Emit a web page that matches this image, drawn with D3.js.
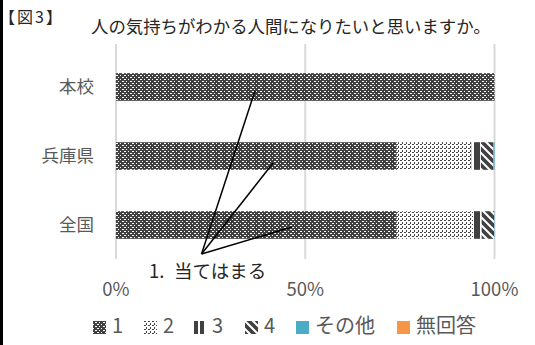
<!DOCTYPE html>
<html><head><meta charset="utf-8">
<script src="https://cdn.jsdelivr.net/npm/d3@7"></script>
<style>
html,body{margin:0;padding:0;background:#fff;}
svg{display:block;font-family:"Noto Sans CJK JP","Noto Sans",sans-serif;}
</style></head>
<body>
<script>
// ---- data ----
const categories = ["本校", "兵庫県", "全国"];
const seriesKeys = ["1", "2", "3", "4", "その他", "無回答"];
const honko   = [100, 0, 0, 0, 0, 0];
const hyogo   = [74.2, 19.8, 2.4, 3.3, 0.3, 0];
const zenkoku = [74.2, 20.2, 2.2, 3.3, 0.1, 0];
const tickValues = [0, 50, 100];
const tickLabels = ["0%", "50%", "100%"];
const figLabel = "【図3】";
const title = "人の気持ちがわかる人間になりたいと思いますか。";
const calloutNum = "1.";
const calloutText = "当てはまる";
// leader line targets (percent along the axis, inside segment 1)
const calloutTargets = [36.7, 41.5, 46.5];

// ---- layout ----
const W = 535, H = 345;
const svg = d3.select("body").append("svg").attr("width", W).attr("height", H);
const defs = svg.append("defs");
const dark = "#404040";

function pat(id, w, h, bg, rects) {
  const p = defs.append("pattern").attr("id", id).attr("patternUnits", "userSpaceOnUse")
    .attr("width", w).attr("height", h);
  p.append("rect").attr("width", w).attr("height", h).attr("fill", bg);
  rects.forEach(r => p.append("rect").attr("x", r[0]).attr("y", r[1]).attr("width", r[2]).attr("height", r[3]).attr("fill", r[4]));
  return p;
}
pat("p1", 8, 4, dark, [[2,1,2,1,"#fff"],[6,1,1,1,"#fff"],[0,3,1,1,"#fff"],[4,3,2,1,"#fff"]]);
pat("p2", 4, 4, "#fff", [[0,0,2,1,dark],[2,2,1,2,dark]]);
pat("p3", 8, 4, "#fff", [[2,0,6,4,dark]]);
pat("p3L", 6, 4, "#fff", [[1,0,4,4,dark]]);
(function(){
  const p = defs.append("pattern").attr("id","p4").attr("patternUnits","userSpaceOnUse").attr("width",8).attr("height",8);
  p.append("rect").attr("width",8).attr("height",8).attr("fill",dark);
  p.append("path").attr("d","M0,0 L8,8 M-1,7 L1,9 M7,-1 L9,1").attr("stroke","#fff").attr("stroke-width",2);
})();
const fills = ["url(#p1)", "url(#p2)", "url(#p3)", "url(#p4)", "#4BACC6", "#F79646"];
const legendFills = ["url(#p1)", "url(#p2)", "url(#p3L)", "url(#p4)", "#4BACC6", "#F79646"];

const x = d3.scaleLinear().domain([0, 100]).range([116, 494.5]);
const y = d3.scaleBand().domain(categories).range([52.5, 259.5]).paddingInner(0.6).paddingOuter(0.3);

// left frame edge
svg.append("rect").attr("x", 0).attr("y", 0).attr("width", 3).attr("height", H).attr("fill", "#000");

// gridlines
svg.append("g").selectAll("line").data(tickValues).join("line")
  .attr("x1", d => x(d)).attr("x2", d => x(d)).attr("y1", 44).attr("y2", 259)
  .attr("stroke", "#d9d9d9").attr("stroke-width", 2);

// bars
const rows = [honko, hyogo, zenkoku].map((v, i) => {
  const o = {cat: categories[i]}; seriesKeys.forEach((k, j) => o[k] = v[j]); return o;
});
const stacked = d3.stack().keys(seriesKeys)(rows);
svg.append("g").selectAll("g").data(stacked).join("g")
  .attr("fill", (d, i) => fills[i])
  .selectAll("rect").data(d => d).join("rect")
  .attr("x", d => x(d[0])).attr("width", d => Math.max(0, x(d[1]) - x(d[0])))
  .attr("y", d => y(d.data.cat)).attr("height", y.bandwidth());

// category labels
svg.append("g").selectAll("text").data(categories).join("text")
  .attr("x", 94).attr("y", d => y(d) + y.bandwidth() / 2).attr("dy", "0.36em")
  .attr("text-anchor", "end").attr("font-size", 17.5).attr("fill", "#595959").text(d => d);

// tick labels
svg.append("g").selectAll("text").data(tickValues).join("text")
  .attr("x", d => x(d)).attr("y", 296).attr("text-anchor", "middle")
  .attr("font-size", 18.5).attr("fill", "#595959").text((d, i) => tickLabels[i]);

// title
svg.append("text").attr("x", -1).attr("y", 23).attr("font-size", 16).attr("letter-spacing", 2)
  .attr("fill", "#262626").text(figLabel);
svg.append("text").attr("x", 91).attr("y", 33).attr("font-size", 17.4).attr("fill", "#262626").text(title);

// callout
const ox = x(22.6), oy = 254;
const offs = [4, 7, 2];
svg.append("g").selectAll("line").data(categories).join("line")
  .attr("x1", ox).attr("y1", oy)
  .attr("x2", (d, i) => x(calloutTargets[i]))
  .attr("y2", (d, i) => y(d) + y.bandwidth() / 2 + offs[i])
  .attr("stroke", "#000").attr("stroke-width", 1.5);
const ct = svg.append("text").attr("y", 278).attr("font-size", 18.5).attr("fill", "#262626");
ct.append("tspan").attr("x", 149).text(calloutNum);
ct.append("tspan").attr("x", 174).text(calloutText);

// legend
const legX = [93, 144, 193, 245, 296, 397];
const lg = svg.append("g").selectAll("g").data(seriesKeys).join("g")
  .attr("transform", (d, i) => `translate(${legX[i]},321)`);
lg.append("rect").attr("width", 13).attr("height", 13).attr("fill", (d, i) => legendFills[i]);
lg.append("text").attr("x", 19).attr("y", 12).attr("font-size", 20).attr("fill", "#595959").text(d => d);
</script>
</body></html>
